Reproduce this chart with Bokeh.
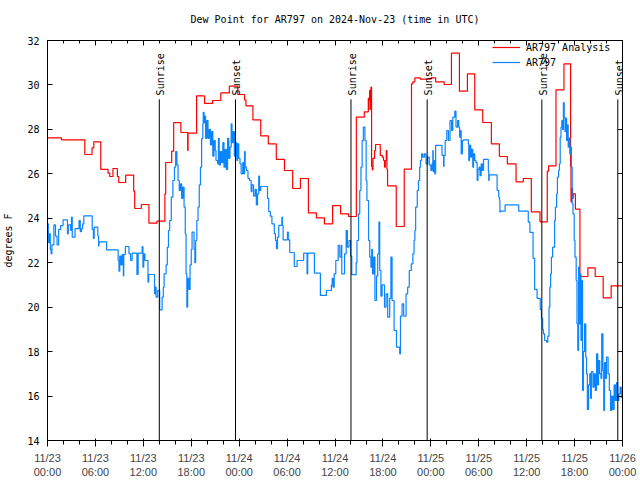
from math import pi
import pandas as pd
from bokeh.plotting import figure
from bokeh.models import (Range1d, FixedTicker, DatetimeTickFormatter, DatetimeAxis,
                          LinearAxis)
from bokeh.core.properties import value
from bokeh.embed import file_html
from bokeh.resources import INLINE

START = pd.Timestamp("2024-11-23 00:00")
FONT = "DejaVu Sans Mono"

# ---- data (hours after 2024-11-23 00:00 UTC, dew point in deg F) ----
analysis_hours = [0, 1.75, 4.67, 5.58, 5.8, 6.67, 7.58, 7.79, 8.2, 8.75, 8.92, 9.79, 10.79, 10.92,
                  11.75, 12.7, 13.7, 14.7, 14.8, 15.55, 15.8, 16.7, 17.55, 17.6, 18.67, 19.67,
                  20.67, 21.7, 22.77, 23.83, 24.67, 24.85, 25.72, 26.7, 27.65, 28.65, 29.67,
                  30.7, 31.67, 32.67, 33.67, 34.67, 35.7, 36.7, 37.7, 38.67, 39.67, 40.17,
                  40.22, 40.25, 40.33, 40.45, 40.5, 40.58, 40.67, 40.75, 40.96, 41.08, 41.67,
                  41.92, 42.08, 42.2, 42.3, 42.42, 42.5, 42.58, 43.67, 44.67, 45.58, 45.75,
                  46.0, 46.67, 48.0, 48.6, 49.67, 50.58, 51.58, 52.58, 53.5, 54.5, 55.58,
                  56.58, 57.58, 58.67, 59.58, 60.58, 61.67, 62.58, 62.75, 63.67, 64.67, 65.5,
                  65.55, 65.6, 65.75, 65.83, 66.1, 66.67, 67.67, 68.58, 69.58, 70.58, 72.0]
analysis_dewpt = [27.62, 27.53, 26.87, 27.17, 27.44, 26.2, 26.03, 25.88, 26.24, 25.88, 25.61,
                  25.94, 25.22, 24.44, 24.62, 23.78, 23.87, 25.1, 26.51, 27.02, 28.3, 27.86,
                  27.05, 27.83, 29.51, 29.17, 29.3, 29.64, 29.95, 29.57, 29.33, 29.06, 28.43,
                  27.71, 27.35, 26.65, 26.15, 25.34, 25.79, 24.24, 24.02, 23.75, 24.57, 24.2,
                  24.08, 28.55, 28.79, 29.4, 28.9, 29.3, 29.75, 28.9, 29.9, 26.33, 26.18,
                  26.7, 27.05, 27.32, 26.83, 26.75, 26.6, 26.3, 26.6, 27.05, 26.2, 25.46,
                  23.63, 26.21, 30.05, 30.14, 30.32, 30.26, 30.32, 30.14, 30.02, 31.43, 29.72,
                  30.5, 28.88, 28.31, 27.35, 26.78, 26.45, 25.64, 25.79, 24.29, 23.84, 26.12,
                  26.36, 29.78, 30.95, 26.33, 24.74, 25.34, 24.9, 25.1, 24.41, 21.38, 21.77,
                  21.38, 20.42, 20.96, 20.96]

obs_hours = [0.0, 0.1, 0.2, 0.35, 0.45, 0.55, 0.8, 1.0, 1.2, 1.4, 1.65, 1.95, 2.5, 2.6, 2.9,
             3.0, 3.1, 3.45, 3.95, 4.1, 4.25, 4.4, 4.55, 5.6, 5.75, 5.85, 6.3, 6.4, 6.45, 7.4,
             8.85, 8.95, 9.05, 9.2, 9.35, 9.5, 9.55, 9.75, 10.2, 10.4, 10.6, 11.2, 11.35,
             11.85, 11.95, 12.05, 12.2, 12.58, 12.67, 13.4, 13.5, 13.6, 13.8, 14.05, 14.35,
             14.5, 14.6, 14.85, 15.0, 15.15, 15.3, 15.5, 15.7, 15.9, 16.05, 16.2, 16.35,
             16.5, 16.65, 16.8, 16.95, 17.1, 17.25, 17.35, 17.45, 17.55, 17.7, 17.85, 18.0,
             18.1, 18.35, 18.45, 18.55, 18.7, 18.85, 19.0, 19.15, 19.3, 19.45, 19.5, 19.6,
             19.7, 19.8, 19.95, 20.1, 20.25, 20.4, 20.55, 20.7, 20.85, 21.0, 21.1, 21.3,
             21.4, 21.5, 21.65, 21.8, 21.95, 22.1, 22.25, 22.4, 22.55, 22.7, 22.85, 23.0,
             23.1, 23.25, 23.4, 23.55, 23.7, 23.8, 23.95, 24.1, 24.25, 24.45, 24.6, 24.67,
             24.75, 24.9, 25.1, 25.3, 25.5, 25.6, 25.8, 26.0, 26.15, 26.3, 26.45, 26.55,
             26.7, 27.55, 27.7, 27.9, 28.1, 28.4, 28.55, 28.67, 28.8, 28.96, 29.35, 29.42,
             29.5, 30.05, 30.15, 30.33, 30.9, 31.25, 32.08, 32.5, 32.58, 33.42, 34.17,
             34.92, 35.55, 35.65, 35.75, 35.9, 36.1, 36.4, 36.6, 36.8, 36.85, 37.2, 37.4,
             37.55, 37.75, 37.95, 38.1, 38.65, 38.75, 38.95, 39.1, 39.25, 39.4, 39.55,
             39.75, 39.9, 40.0, 40.2, 40.35, 40.5, 40.6, 40.7, 40.85, 41.0, 41.2, 41.35,
             41.5, 41.6, 41.75, 41.9, 42.2, 42.4, 42.6, 42.85, 43.0, 43.15, 43.4, 43.7,
             44.1, 44.2, 44.4, 44.6, 44.9, 45.1, 45.3, 45.55, 45.75, 45.9, 46.0, 46.1,
             46.3, 46.45, 46.6, 46.7, 46.85, 47.0, 47.2, 47.4, 47.6, 47.8, 48.0, 48.15,
             48.25, 48.3, 48.4, 48.5, 48.6, 49.4, 49.6, 49.65, 49.8, 50.0, 50.2, 50.4,
             50.6, 50.75, 51.0, 51.15, 51.35, 51.5, 51.6, 51.75, 51.8, 51.95, 52.1, 52.7,
             52.75, 52.85, 53.0, 53.1, 53.25, 53.35, 53.5, 53.65, 53.8, 53.9, 54.05,
             54.15, 54.3, 54.45, 54.6, 55.2, 55.25, 55.3, 56.3, 56.5, 56.6, 56.65, 56.7,
             57.3, 59.0, 60.2, 60.4, 60.8, 61.0, 61.3, 61.7, 61.85, 62.0, 62.1, 62.25,
             62.5, 62.65, 62.8, 62.9, 63.0, 63.1, 63.25, 63.5, 63.6, 63.75, 63.85, 64.0,
             64.1, 64.2, 64.3, 64.4, 64.5, 64.6, 64.7, 64.8, 64.9, 65.0, 65.1, 65.2,
             65.3, 65.4, 65.5, 65.6, 65.7, 65.8, 65.95, 66.05, 66.2, 66.3, 66.4, 66.5,
             66.6, 66.7, 66.8, 66.9, 67.0, 67.1, 67.25, 67.4, 67.5, 67.6, 67.75, 67.9,
             68.0, 68.1, 68.3, 68.45, 68.6, 68.75, 68.9, 69.0, 69.15, 69.3, 69.4, 69.55,
             69.65, 69.75, 69.9, 70.0, 70.2, 70.35, 70.5, 70.65, 70.8, 70.95, 71.1,
             71.25, 71.4, 71.55, 71.7, 71.85]
obs_dewpt = [23.75, 22.9, 23.3, 22.6, 22.4, 22.8, 23.7, 23.2, 22.8, 23.5, 23.67, 23.93, 23.3,
             23.7, 23.45, 24.05, 23.15, 23.53, 23.9, 23.4, 23.53, 23.75, 24.11, 23.5, 23.1,
             23.6, 23.2, 22.75, 22.94, 22.58, 22.1, 21.62, 22.3, 21.9, 22.37, 21.41, 22.37,
             22.73, 22.4, 22.1, 22.43, 21.47, 22.43, 22.73, 21.8, 22.4, 22.1, 21.13, 21.47,
             20.6, 20.9, 20.45, 20.75, 19.88, 20.45, 20.9, 21.5, 21.9, 22.7, 23.45, 23.9,
             24.95, 25.7, 26.3, 27.0, 26.4, 25.7, 25.25, 25.55, 24.9, 25.4, 24.5, 23.3,
             21.5, 20.0, 21.3, 20.8, 21.9, 22.6, 23.38, 22.6, 22.0, 23.0, 23.9, 24.5, 25.5,
             26.3, 27.58, 28.25, 28.77, 28.3, 28.6, 27.6, 28.4, 27.6, 28.0, 27.3, 27.9,
             26.8, 27.5, 27.05, 26.6, 26.45, 27.6, 26.4, 27.0, 26.5, 27.4, 26.3, 27.1,
             26.2, 27.6, 26.7, 27.2, 28.25, 27.4, 27.9, 26.8, 27.4, 26.6, 27.35, 26.7,
             26.45, 26.0, 26.5, 26.0, 27.0, 26.3, 26.15, 25.8, 25.7, 25.2, 25.5, 25.0,
             25.3, 24.6, 25.1, 25.9, 25.25, 25.43, 24.9, 24.3, 24.1, 23.75, 23.3, 23.0,
             22.63, 23.15, 23.68, 24.05, 23.68, 23.03, 23.38, 23.03, 22.46, 21.83, 22.1,
             22.43, 21.5, 22.43, 21.53, 20.53, 20.75, 21.0, 21.3, 20.9, 21.5, 22.1, 22.78,
             22.25, 22.78, 21.5, 22.4, 23.45, 22.7, 23.0, 22.3, 21.46, 22.0, 23.0, 24.2,
             25.25, 26.3, 27.5, 28.1, 27.5, 25.7, 24.8, 23.0, 22.25, 21.8, 22.6, 21.5,
             22.25, 20.3, 21.4, 22.4, 23.83, 21.65, 20.5, 21.0, 20.0, 20.6, 19.55, 20.4,
             22.25, 20.3, 18.95, 18.2, 17.9, 19.6, 20.15, 19.6, 20.6, 20.9, 21.65, 21.95,
             22.4, 23.0, 23.45, 24.5, 25.25, 25.7, 26.3, 26.6, 26.9, 26.75, 26.9, 26.45,
             26.75, 26.4, 26.15, 26.45, 27.05, 26.1, 26.6, 26.0, 27.28, 26.83, 26.33,
             26.83, 27.5, 27.95, 27.5, 28.4, 27.95, 28.55, 28.82, 28.1, 28.4, 28.1, 27.65,
             27.95, 26.9, 27.5, 27.53, 27.35, 26.6, 27.28, 26.75, 27.1, 26.3, 26.9, 26.6,
             26.5, 25.7, 26.2, 26.3, 25.92, 26.45, 26.15, 26.65, 26.15, 25.7, 25.95, 25.25,
             24.95, 24.8, 24.28, 24.32, 24.6, 24.32, 23.83, 23.37, 22.2, 20.8, 20.4, 19.9,
             19.5, 19.0, 18.8, 18.5, 18.43, 18.7, 20.0, 20.9, 21.5, 22.25, 22.7, 23.9,
             24.5, 25.1, 25.85, 26.15, 26.45, 27.65, 28.1, 28.4, 28.0, 29.2, 28.55, 27.9,
             28.5, 27.5, 28.2, 27.2, 27.6, 26.9, 27.2, 26.3, 24.65, 24.2, 23.0, 22.25,
             21.2, 19.25, 18.05, 21.8, 19.25, 21.5, 18.5, 21.2, 16.25, 18.0, 19.25, 17.75,
             17.0, 15.4, 16.5, 17.0, 15.9, 17.1, 16.4, 17.0, 16.25, 17.9, 16.5, 17.6,
             17.0, 16.8, 18.8, 17.15, 15.35, 17.5, 16.8, 17.75, 17.0, 16.25, 15.35, 16.0,
             15.4, 16.5, 15.8, 16.6, 15.8, 16.1, 16.4, 15.9]

sun_hours = [14.0, 23.54, 38.0, 47.54, 61.9, 71.41]
sun_labels = ["Sunrise", "Sunset", "Sunrise", "Sunset", "Sunrise", "Sunset"]
sun_label_level = 29.35

x_major_hours = list(range(0, 73, 6))
x_minor_hours = list(range(0, 73, 2))
y_ticks = list(range(14, 33, 2))


def to_time(hours):
    return [START + pd.Timedelta(hours=h) for h in hours]


def to_ms(hours):
    return [(START + pd.Timedelta(hours=h)).value / 1e6 for h in hours]


p = figure(width=640, height=480, x_axis_type="datetime", output_backend="svg",
           toolbar_location=None,
           x_range=Range1d(START, START + pd.Timedelta(hours=72)),
           y_range=Range1d(14, 32),
           title="Dew Point for AR797 on 2024-Nov-23 (time in UTC)",
           min_border_left=46, min_border_right=18, min_border_top=40,
           min_border_bottom=40)
p.background_fill_color = "white"
p.border_fill_color = "white"
p.xgrid.visible = False
p.ygrid.visible = False
p.outline_line_color = "black"
p.outline_line_width = 1

p.title.align = "center"
p.title.text_font = FONT
p.title.text_font_size = "10px"
p.title.text_font_style = "normal"
p.title.text_color = "black"
p.title.vertical_align = "top"
p.title.standoff = 27

p.step(to_time(analysis_hours), analysis_dewpt, mode="after", line_color="#ff0000",
       line_width=1.2, legend_label="AR797 Analysis")
p.step(to_time(obs_hours), obs_dewpt, mode="after", line_color="#0a84ff",
       line_width=1.2, legend_label="AR797")

sun_t = to_time(sun_hours)
p.segment(x0=sun_t, y0=[14] * len(sun_t), x1=sun_t, y1=[sun_label_level] * len(sun_t),
          line_color="black", line_width=1)
p.text(x=sun_t, y=[sun_label_level] * len(sun_t), text=sun_labels, angle=pi / 2,
       text_align="left", text_baseline="middle", x_offset=1.5, y_offset=-4,
       text_font=value(FONT), text_font_size="10px", text_color="black")

xticker = FixedTicker(ticks=to_ms(x_major_hours), minor_ticks=to_ms(x_minor_hours))
fmt = "%m/%d\n%H:%M"
xfmt = DatetimeTickFormatter(microseconds=fmt, milliseconds=fmt, seconds=fmt, minsec=fmt,
                             minutes=fmt, hourmin=fmt, hours=fmt, days=fmt, months=fmt,
                             years=fmt)
yticker = FixedTicker(ticks=y_ticks, minor_ticks=[])

p.xaxis.ticker = xticker
p.xaxis.formatter = xfmt
p.yaxis.ticker = yticker
p.yaxis.axis_label = "degrees F"

top = DatetimeAxis(ticker=xticker, formatter=xfmt)
right = LinearAxis(ticker=yticker)
p.add_layout(top, "above")
p.add_layout(right, "right")

for ax in [p.xaxis[0], p.yaxis[0], top, right]:
    ax.axis_line_color = "black"
    ax.major_tick_line_color = "black"
    ax.minor_tick_line_color = "black"
    ax.major_tick_in = 5
    ax.major_tick_out = 0
    ax.minor_tick_in = 3
    ax.minor_tick_out = 0
    ax.major_label_text_font = FONT
    ax.major_label_text_font_size = "10px"
    ax.major_label_text_color = "black"
    ax.axis_label_text_font = FONT
    ax.axis_label_text_font_size = "10px"
    ax.axis_label_text_font_style = "normal"
    ax.axis_label_text_color = "black"

for ax in [top, right]:
    ax.major_label_text_color = None
    ax.major_label_standoff = 0

p.xaxis[0].major_label_standoff = 20
p.xaxis[0].major_label_text_baseline = "middle"
p.xaxis[0].major_label_text_line_height = 1.0
p.yaxis[0].major_label_standoff = 8
p.yaxis[0].axis_label_standoff = 10

lg = p.legend[0]
lg.location = (444, 371)
lg.background_fill_alpha = 0
lg.border_line_alpha = 0
lg.label_text_font = FONT
lg.label_text_font_size = "10px"
lg.label_text_color = "black"
lg.glyph_width = 28
lg.glyph_height = 12
lg.label_height = 12
lg.spacing = 3
lg.padding = 1
lg.margin = 0
lg.label_standoff = 6

open("out.html", "w").write(file_html(p, INLINE))
